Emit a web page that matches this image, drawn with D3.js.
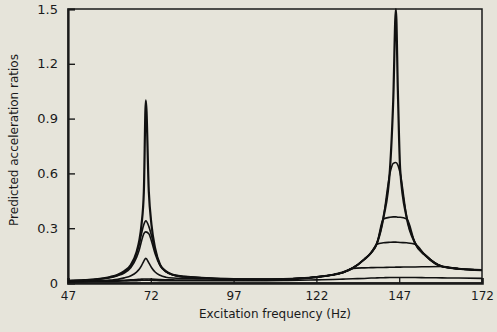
<!DOCTYPE html>
<html>
<head>
<meta charset="utf-8">
<script src="https://cdn.jsdelivr.net/npm/d3@7"></script>
<style>
  body { margin: 0; background: #e6e4da; }
  svg { display: block; }
  text { font-family: "DejaVu Sans", sans-serif; fill: #1a1a1a; }
</style>
</head>
<body>
<svg></svg>
<script>
// excitation frequencies (Hz) sampled for every curve
const freqs = [47, 52, 56, 59.7, 62, 64, 66, 67.7, 68.5, 69.2,
  69.9, 70.5, 71.4, 72.2, 73.3, 74.8, 76.5, 78.7, 82, 86,
  90, 97, 105, 112, 117, 122, 127, 130, 133, 136.5,
  138.5, 140.3, 142.2, 144.2, 145.2, 146, 146.6, 147.3, 149.3, 151.8,
  155, 160, 165, 172];

// predicted acceleration ratios, one array per damping case
const ratioA = [0.012, 0.016, 0.022, 0.033, 0.045, 0.065, 0.1, 0.17, 0.23, 0.32,
  0.5, 1.0, 0.5, 0.32, 0.19, 0.1, 0.065, 0.045, 0.035, 0.03,
  0.026, 0.022, 0.02, 0.022, 0.026, 0.033, 0.045, 0.058, 0.082, 0.13,
  0.165, 0.218, 0.355, 0.62, 1.0, 1.5, 1.05, 0.62, 0.355, 0.218,
  0.15, 0.09, 0.078, 0.07];
const ratioB = [0.012, 0.016, 0.021, 0.031, 0.043, 0.062, 0.095, 0.16, 0.21, 0.27,
  0.32, 0.34, 0.31, 0.26, 0.18, 0.1, 0.064, 0.045, 0.035, 0.03,
  0.026, 0.022, 0.02, 0.022, 0.026, 0.033, 0.045, 0.058, 0.082, 0.13,
  0.165, 0.218, 0.355, 0.6, 0.655, 0.66, 0.645, 0.6, 0.355, 0.218,
  0.15, 0.09, 0.078, 0.07];
const ratioC = [0.011, 0.015, 0.02, 0.029, 0.04, 0.055, 0.085, 0.14, 0.18, 0.23,
  0.27, 0.28, 0.27, 0.23, 0.16, 0.095, 0.062, 0.044, 0.034, 0.03,
  0.026, 0.022, 0.02, 0.022, 0.026, 0.033, 0.045, 0.058, 0.082, 0.13,
  0.165, 0.218, 0.35, 0.36, 0.362, 0.362, 0.36, 0.36, 0.35, 0.218,
  0.15, 0.09, 0.078, 0.07];
const ratioD = [0.008, 0.01, 0.012, 0.016, 0.02, 0.028, 0.04, 0.06, 0.075, 0.095,
  0.12, 0.135, 0.11, 0.085, 0.06, 0.042, 0.032, 0.027, 0.025, 0.024,
  0.023, 0.021, 0.02, 0.022, 0.026, 0.033, 0.045, 0.058, 0.082, 0.13,
  0.165, 0.212, 0.22, 0.223, 0.224, 0.224, 0.223, 0.222, 0.22, 0.212,
  0.15, 0.09, 0.078, 0.07];
const ratioE = [0.008, 0.009, 0.01, 0.012, 0.013, 0.015, 0.017, 0.019, 0.02, 0.021,
  0.022, 0.022, 0.022, 0.021, 0.02, 0.019, 0.018, 0.017, 0.016, 0.016,
  0.016, 0.016, 0.017, 0.019, 0.022, 0.03, 0.045, 0.058, 0.08, 0.083,
  0.084, 0.085, 0.085, 0.086, 0.086, 0.087, 0.087, 0.087, 0.088, 0.088,
  0.089, 0.09, 0.078, 0.07];
const ratioF = [0.006, 0.007, 0.008, 0.009, 0.01, 0.011, 0.012, 0.013, 0.014, 0.015,
  0.015, 0.016, 0.015, 0.015, 0.014, 0.013, 0.013, 0.012, 0.012, 0.012,
  0.012, 0.012, 0.013, 0.014, 0.015, 0.017, 0.019, 0.021, 0.023, 0.025,
  0.027, 0.028, 0.029, 0.03, 0.03, 0.03, 0.03, 0.03, 0.03, 0.03,
  0.029, 0.028, 0.027, 0.025];

const series = [ratioF, ratioE, ratioD, ratioC, ratioB, ratioA];

const xTicks = [47, 72, 97, 122, 147, 172];
const yTicks = [0, 0.3, 0.6, 0.9, 1.2, 1.5];
const yTickLabels = ["0", "0.3", "0.6", "0.9", "1.2", "1.5"];

const svgWidth = 497, svgHeight = 332;
const margin = { top: 9, right: 15, bottom: 49, left: 68 };
const width = svgWidth - margin.left - margin.right;
const height = svgHeight - margin.top - margin.bottom;

const svg = d3.select("svg")
    .attr("width", svgWidth)
    .attr("height", svgHeight);

const g = svg.append("g")
    .attr("transform", "translate(" + margin.left + "," + margin.top + ")");

const xScale = d3.scaleLinear().domain([47, 172]).range([0, width]);
const yScale = d3.scaleLinear().domain([0, 1.5]).range([height, 0]);

// frame
g.append("rect")
    .attr("width", width)
    .attr("height", height)
    .attr("fill", "none")
    .attr("stroke", "#1a1a1a")
    .attr("stroke-width", 1.5);

// left axis, ticks pointing inward
const yAxis = g.append("g")
    .call(d3.axisLeft(yScale)
        .tickValues(yTicks)
        .tickSize(-7)
        .tickPadding(10)
        .tickFormat(function(d, i) { return yTickLabels[i]; }));
yAxis.select(".domain").attr("stroke-width", 2.2).attr("stroke", "#1a1a1a");
yAxis.selectAll(".tick line").attr("stroke-width", 1.4).attr("stroke", "#1a1a1a");
yAxis.selectAll(".tick text")
    .style("font-size", "13px")
    .attr("fill", "#1a1a1a");

// bottom axis
const xAxis = g.append("g")
    .attr("transform", "translate(0," + height + ")")
    .call(d3.axisBottom(xScale)
        .tickValues(xTicks)
        .tickSize(-5)
        .tickPadding(8)
        .tickFormat(d3.format("d")));
xAxis.select(".domain").attr("stroke-width", 2.6).attr("stroke", "#1a1a1a");
xAxis.selectAll(".tick line").attr("stroke-width", 1.3).attr("stroke", "#1a1a1a");
xAxis.selectAll(".tick text")
    .style("font-size", "12px")
    .attr("fill", "#1a1a1a");

// response curves
const line = d3.line()
    .x(function(d, i) { return xScale(freqs[i]); })
    .y(function(d) { return yScale(d); })
    .curve(d3.curveMonotoneX);

g.selectAll("path.curve")
    .data(series)
    .enter()
    .append("path")
    .attr("class", "curve")
    .attr("fill", "none")
    .attr("stroke", "#111")
    .attr("stroke-width", function(d, i) { return i === series.length - 1 ? 2.2 : 1.6; })
    .attr("stroke-linejoin", "round")
    .attr("d", line);

// axis titles
g.append("text")
    .attr("transform", "translate(" + (width / 2) + "," + (height + 35) + ")")
    .style("text-anchor", "middle")
    .style("font-size", "12px")
    .text("Excitation frequency (Hz)");

g.append("text")
    .attr("transform", "translate(" + (-50) + "," + (height / 2 - 6) + ") rotate(-90)")
    .style("text-anchor", "middle")
    .style("font-size", "12px")
    .text("Predicted acceleration ratios");
</script>
</body>
</html>
